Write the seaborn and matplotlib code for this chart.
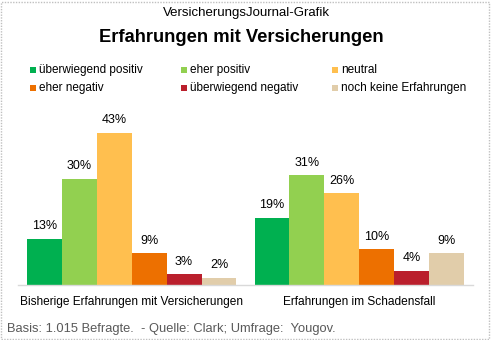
import matplotlib
matplotlib.use("Agg")
import matplotlib.pyplot as plt
import seaborn as sns
import pandas as pd
from matplotlib.patches import Rectangle

categories = ["Bisherige Erfahrungen mit Versicherungen", "Erfahrungen im Schadensfall"]
series = ["überwiegend positiv", "eher positiv", "neutral",
          "eher negativ", "überwiegend negativ", "noch keine Erfahrungen"]
values_bisher = [13, 30, 43, 9, 3, 2]
values_schaden = [19, 31, 26, 10, 4, 9]
colors = ["#00B050", "#92D050", "#FFBF4F", "#ED7000", "#BA1F2C", "#E1CDAA"]

rows = []
for s, v in zip(series, values_bisher):
    rows.append({"Kategorie": categories[0], "Antwort": s, "Wert": v})
for s, v in zip(series, values_schaden):
    rows.append({"Kategorie": categories[1], "Antwort": s, "Wert": v})
df = pd.DataFrame(rows)

sns.set_theme(style="white")
plt.rcParams["font.family"] = ["Liberation Sans", "DejaVu Sans"]

W, H = 491, 340
fig = plt.figure(figsize=(W / 100, H / 100), dpi=100)
left, right, bottom, top = 18, 473, 284.7, 110
ax = fig.add_axes([left / W, 1 - bottom / H, (right - left) / W, (bottom - top) / H])

sns.barplot(data=df, x="Kategorie", y="Wert", hue="Antwort", order=categories,
            hue_order=series, palette=colors, width=0.92, gap=0, ax=ax,
            legend=False, saturation=1, linewidth=0)

for c in ax.containers:
    ax.bar_label(c, fmt="%d%%", padding=4.5, fontsize=9, color="#000000")

px_per_pct = 152 / 43
ax.set_ylim(0, (bottom - top) / px_per_pct)
ax.set_xlim(-0.5, 1.5)
ax.set_xlabel("")
ax.set_ylabel("")
ax.set_yticks([])
for sp in ["top", "left", "right"]:
    ax.spines[sp].set_visible(False)
ax.spines["bottom"].set_color("#D9D9D9")
ax.spines["bottom"].set_linewidth(1)
ax.tick_params(axis="x", which="major", length=0, pad=8, labelsize=8.6, labelcolor="#000000")
ax.set_xticks([-0.5, 0.5, 1.5], minor=True)
ax.tick_params(axis="x", which="minor", length=4.5, width=1, color="#D9D9D9", direction="out")
ax.set_facecolor("white")

# Titles
fig.text(246 / W, 1 - 13 / H, "VersicherungsJournal-Grafik", ha="center", va="center",
         fontsize=9.5, color="#000000")
fig.text(241 / W, 1 - 37 / H, "Erfahrungen mit Versicherungen", ha="center", va="center",
         fontsize=13.2, fontweight="bold", color="#000000")

# Legend (3 columns, 2 rows)
col_x = [30, 181, 332]
row_y = [70, 88]
for i, (name, col) in enumerate(zip(series, colors)):
    cx = col_x[i % 3]
    cy = row_y[i // 3]
    fig.patches.append(Rectangle((cx / W, 1 - (cy + 3) / H), 6 / W, 6 / H,
                                 transform=fig.transFigure, facecolor=col,
                                 edgecolor="none"))
    fig.text((cx + 9) / W, 1 - cy / H, name, ha="left", va="center",
             fontsize=8.5, color="#000000")

# Footer
fig.text(7 / W, 1 - 329 / H, "Basis: 1.015 Befragte.  - Quelle: Clark; Umfrage:  Yougov.",
         ha="left", va="center", fontsize=9.3, color="#595959")

# Dotted border
fig.patches.append(Rectangle((1 / W, 1 / H), (W - 3) / W, (H - 3) / H,
                             transform=fig.transFigure, facecolor="none",
                             edgecolor="#C0C0C0", linestyle=(0, (1, 1)), linewidth=1))

fig.savefig("out.png", dpi=100, facecolor="white")
